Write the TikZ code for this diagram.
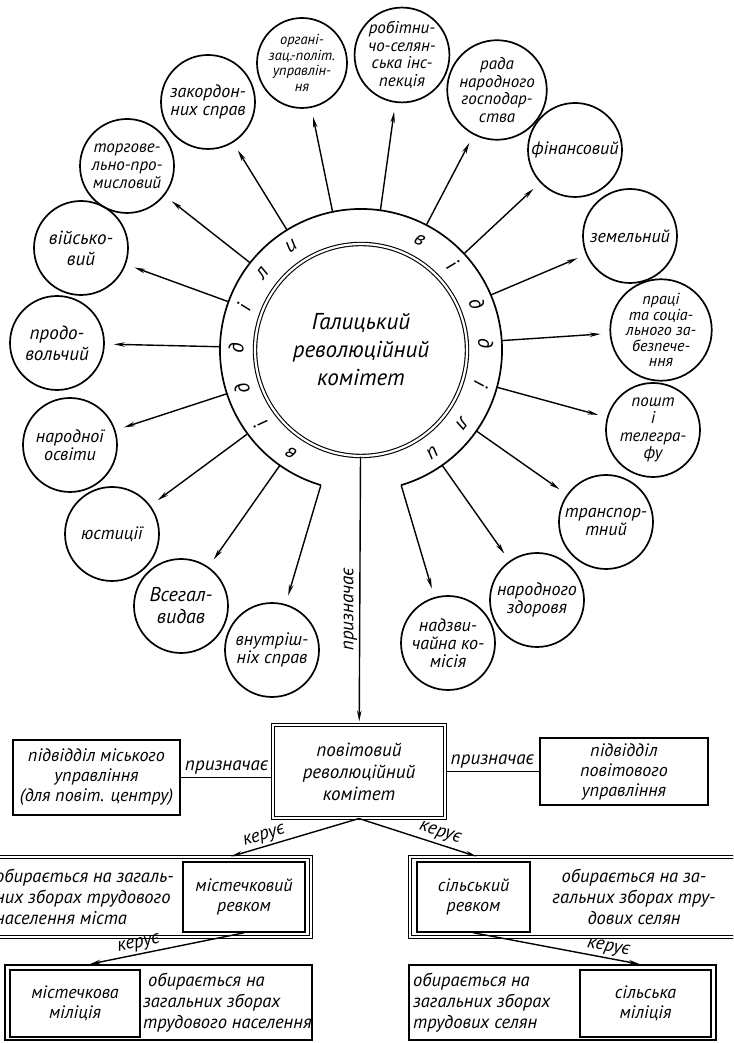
\documentclass[tikz,border=0pt]{standalone}
\usepackage{fontspec}
\setmainfont{PT Sans}
\usetikzlibrary{arrows.meta,calc}
\begin{document}
\begin{tikzpicture}[x=1pt,y=1pt,
  sat/.style={circle, draw, line width=1.7pt, minimum size=94pt, inner sep=0pt, align=center, font=\itshape\fontsize{18}{18}\selectfont},
  arr/.style={line width=1.4pt, -{Stealth[length=11pt,width=4.5pt]}, shorten >=9pt},
  karr/.style={line width=1.4pt, -{Stealth[length=11pt,width=4.5pt]}},
  lbl/.style={font=\itshape\fontsize{19}{19}\selectfont, inner sep=2pt},
  box/.style={draw, line width=1.6pt, align=center, inner sep=0pt, font=\itshape\fontsize{18}{20}\selectfont},
  dbox/.style={draw, line width=1.1pt, double, double distance=2pt, inner sep=0pt},
  txt/.style={align=left, inner sep=0pt, font=\itshape\fontsize{18.5}{21}\selectfont},
  ring letter/.style={font=\itshape\fontsize{21}{21}\selectfont, inner sep=0pt}]
\useasboundingbox (0,0) rectangle (733,1043);
\clip (0,0) rectangle (733,1043);
\coordinate (C) at (361,693);
% central circle
\node[circle, draw, line width=1.1pt, double, double distance=2.2pt, minimum size=212pt, inner sep=0pt, align=center,
      font=\itshape\fontsize{23}{28}\selectfont] (gal) at (C) {Галицький\\революційний\\комітет};
\node[circle, minimum size=282pt, inner sep=0pt] (ring) at (C) {};
\draw[line width=1.7pt] ($(C)+(253.5:141)$) arc[start angle=253.5, end angle=-73.5, radius=141];
% ring letters
\foreach \a/\l [count=\i] in {236/в,217/і,198/д,179/д,160/і,142/л,124/и,62/в,43/і,22/д,3/д,-16/і,-36/л,-55/и}
  \node[ring letter, rotate=\a-90] (rl\i) at ($(C)+(\a:125)$) {\l};
% satellites
\node[sat, minimum size=90pt, font=\itshape\fontsize{14.5}{15.5}\selectfont] (org) at (302,980) {органі-\\зац.-політ.\\управлін-\\ня};
\node[sat, font=\itshape\fontsize{17}{17.5}\selectfont] (rsi) at (402,988) {робітни-\\чо-селян-\\ська інс-\\пекція};
\node[sat, font=\itshape\fontsize{17}{17.5}\selectfont] (rng) at (497,953) {рада\\народного\\господар-\\ства};
\node[sat] (fin) at (575,893) {фінансовий};
\node[sat] (zem) at (630,807) {земельний};
\node[sat, font=\itshape\fontsize{16}{15.5}\selectfont] (prac) at (661,713) {праці\\та соціа-\\льного за-\\безпече-\\ння};
\node[sat, font=\itshape\fontsize{17}{17.5}\selectfont] (posh) at (653,613) {пошт\\і\\телегра-\\фу};
\node[sat] (tran) at (606,521) {транспор-\\тний};
\node[sat] (zdor) at (537,443) {народного\\здоровя};
\node[sat] (nadz) at (448,400) {надзви-\\чайна ко-\\місія};
\node[sat] (vnut) at (272,393) {внутріш-\\ніх справ};
\node[sat, font=\itshape\fontsize{20}{22}\selectfont] (vseg) at (181,437) {Всегал-\\видав};
\node[sat] (yust) at (112,509) {юстиції};
\node[sat] (osv) at (70,598) {народної\\освіти};
\node[sat, font=\itshape\fontsize{19}{21}\selectfont] (prod) at (57,700) {продо-\\вольчий};
\node[sat, font=\itshape\fontsize{19}{21}\selectfont] (viys) at (81,795) {військо-\\вий};
\node[sat, font=\itshape\fontsize{17}{18}\selectfont] (torg) at (127,877) {торгове-\\льно-про-\\мисловий};
\node[sat] (zak) at (208,941) {закордон-\\них справ};
\foreach \s in {org,rsi,rng,fin,zem,prac,posh,tran,zdor,nadz,vnut,vseg,yust,osv,prod,viys,torg,zak}
  \draw[arr] (ring) -- (\s);
% district level
\node[dbox, minimum width=172pt, minimum height=93pt, align=center, font=\itshape\fontsize{19}{22}\selectfont] (pov) at (359,271.5) {повітовий\\революційний\\комітет};
\node[box, minimum width=167pt, minimum height=75pt] (misk) at (96.5,265.5) {підвідділ міського\\управління\\(для повіт. центру)};
\node[box, minimum width=168pt, minimum height=67pt] (povu) at (624,271.5) {підвідділ\\повітового\\управління};
\draw[line width=1.4pt] (misk) -- node[lbl, above] {призначає} (misk -| pov.west);
\draw[line width=1.4pt] (pov.east |- povu) -- node[lbl, above] {призначає} (povu);
\draw[arr, shorten >=3pt] (gal) -- node[lbl, rotate=90, anchor=south, pos=0.57] {призначає} (pov);
% town / village revkoms
\node[dbox, minimum width=321pt, minimum height=80pt] (mgrp) at (150.5,146) {};
\node[box, minimum width=122pt, minimum height=70pt] (mrev) at (244,146) {містечковий\\ревком};
\node[txt, anchor=west] (mtxt) at (-5,146) {обирається на загаль-\\них зборах трудового\\населення міста};
\node[dbox, minimum width=335pt, minimum height=80pt] (sgrp) at (577.5,146) {};
\node[box, minimum width=113pt, minimum height=70pt] (srev) at (473.5,146) {сільський\\ревком};
\node[txt, align=center] (stxt) at (634,146) {обирається на за-\\гальних зборах тру-\\дових селян};
\draw[karr] (pov.south) -- node[lbl, sloped, above, pos=0.72] {керує} ($(mgrp.north east)!0.25!(mgrp.north west)$);
\draw[karr] (pov.south) -- node[lbl, sloped, above=1pt, pos=0.66] {керує} ($(sgrp.north west)!0.2!(sgrp.north east)$);
% militia
\node[draw, line width=1.7pt, minimum width=307pt, minimum height=75pt, inner sep=0pt] (mbot) at (158.5,40.5) {};
\node[box, minimum width=130pt, minimum height=67pt] (mmil) at (75,39.5) {містечкова\\міліція};
\node[txt, anchor=west] (mbtxt) at (143,40) {\ обирається на\\загальних зборах\\трудового населення};
\node[draw, line width=1.7pt, minimum width=307pt, minimum height=75pt, inner sep=0pt] (sbot) at (562.5,40.5) {};
\node[box, minimum width=131pt, minimum height=67pt] (smil) at (645.5,39.5) {сільська\\міліція};
\node[txt, anchor=west] (sbtxt) at (413,40) {обирається на\\загальних зборах\\трудових селян};
\draw[karr] (mrev.south) -- node[lbl, sloped, above, pos=0.67] {керує} ($(mbot.north west)!0.277!(mbot.north east)$);
\draw[karr] (srev.south) -- node[lbl, sloped, above, pos=0.8] {керує} ($(sbot.north west)!0.75!(sbot.north east)$);
\end{tikzpicture}
\end{document}
